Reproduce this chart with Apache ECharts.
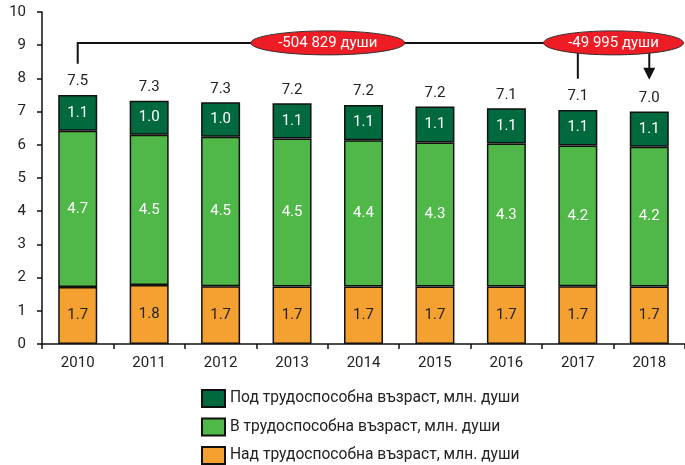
<!DOCTYPE html>
<html>
<head>
<meta charset="utf-8">
<script src="https://cdn.jsdelivr.net/npm/echarts@6.0.0/dist/echarts.min.js"></script>
<style>
  html, body { margin: 0; padding: 0; background: #fff; }
  #chart { width: 685px; height: 465px; }
</style>
</head>
<body>
<div id="chart"></div>
<script>
// данни, прочетени от графиката (млн. души)
const years = ['2010', '2011', '2012', '2013', '2014', '2015', '2016', '2017', '2018']
const underAge = [1.08, 1.03, 1.04, 1.06, 1.06, 1.08, 1.06, 1.07, 1.06]
const workingAge = [4.70, 4.52, 4.50, 4.46, 4.41, 4.34, 4.31, 4.24, 4.21]
const overAge = [1.72, 1.78, 1.74, 1.73, 1.73, 1.73, 1.73, 1.74, 1.73]
const totals = [7.5, 7.3, 7.3, 7.2, 7.2, 7.2, 7.1, 7.1, 7.0]
const seriesNames = [
  'Под трудоспособна възраст, млн. души',
  'В трудоспособна възраст, млн. души',
  'Над трудоспособна възраст, млн. души'
]
const changeLabels = ['-504 829 души', '-49 995 души']

const FONT = 'Roboto'
const colors = { under: '#006a3e', working: '#50b848', over: '#f5a131' }

const chart = echarts.init(document.getElementById('chart'))

// общи настройки за сегментите
function segment(name, data, color, labelColor) {
  return {
    name: name,
    type: 'bar',
    stack: 'pop',
    barWidth: 39,
    data: data,
    itemStyle: { color: color, borderColor: '#111', borderWidth: 1.5 },
    label: {
      show: true,
      position: 'inside',
      color: labelColor,
      fontFamily: FONT,
      fontSize: 15,
      formatter: p => p.value.toFixed(1)
    }
  }
}

const option = {
  backgroundColor: '#fff',
  animation: false,
  textStyle: { fontFamily: FONT },
  grid: { left: 42, right: -3, top: 12, bottom: 121 },
  legend: {
    orient: 'vertical',
    left: 201,
    top: 389,
    padding: 0,
    height: 80,
    icon: 'rect',
    itemWidth: 23,
    itemHeight: 17,
    itemGap: 9.5,
    data: seriesNames,
    textStyle: { color: '#222', fontSize: 15.6, fontFamily: FONT }
  },
  xAxis: {
    type: 'category',
    data: years,
    axisLine: { lineStyle: { color: '#111', width: 1.5 } },
    axisTick: { show: true, length: 5, lineStyle: { color: '#111', width: 1.5 } },
    axisLabel: { color: '#222', fontSize: 15, margin: 12 }
  },
  yAxis: {
    type: 'value',
    min: 0,
    max: 10,
    interval: 1,
    splitLine: { show: false },
    axisLine: { show: true, lineStyle: { color: '#111', width: 1.5 } },
    axisTick: { show: true, length: 5, lineStyle: { color: '#111', width: 1.5 } },
    axisLabel: { color: '#222', fontSize: 15, margin: 16 }
  },
  series: [
    segment(seriesNames[2], overAge, colors.over, '#222'),
    segment(seriesNames[1], workingAge, colors.working, '#fff'),
    segment(seriesNames[0], underAge, colors.under, '#fff'),
    {
      // общо над стълба
      name: 'total',
      type: 'bar',
      stack: 'pop',
      barWidth: 39,
      data: years.map(() => 0),
      itemStyle: { color: 'transparent', borderWidth: 0 },
      label: {
        show: true,
        position: 'top',
        distance: 6,
        color: '#222',
        fontFamily: FONT,
        fontSize: 15,
        formatter: p => totals[p.dataIndex].toFixed(1)
      }
    }
  ]
}

chart.setOption(option)

// анотации - изчислени от скалите на графиката
const px = (i, v) => chart.convertToPixel({ gridIndex: 0 }, [i, v])
const lineY = px(0, 9.07)[1]
const x0 = px(0, 0)[0]
const x17 = px(7, 0)[0]
const x18 = px(8, 0)[0]
const e1x = (px(3, 0)[0] + px(4, 0)[0]) / 2
const e2x = (px(7, 0)[0] + px(8, 0)[0]) / 2
const lineStyle = { stroke: '#111', lineWidth: 2, fill: null }
const tipY = px(8, 7.96)[1]

chart.setOption({
  graphic: [
    { type: 'polyline', z: 10, shape: { points: [[x0, px(0, 8.44)[1]], [x0, lineY], [e2x, lineY]] }, style: lineStyle },
    { type: 'line', z: 10, shape: { x1: x17, y1: lineY, x2: x17, y2: px(7, 7.99)[1] }, style: lineStyle },
    { type: 'line', z: 10, shape: { x1: x18, y1: lineY, x2: x18, y2: tipY - 10 }, style: lineStyle },
    { type: 'polygon', z: 10, shape: { points: [[x18 - 6, tipY - 12], [x18 + 6, tipY - 12], [x18, tipY]] }, style: { fill: '#111' } },
    { type: 'ellipse', z: 11, shape: { cx: e1x, cy: lineY, rx: 77, ry: 12 }, style: { fill: '#ee1d25', stroke: '#333', lineWidth: 1 } },
    { type: 'ellipse', z: 11, shape: { cx: e2x, cy: lineY, rx: 70, ry: 12 }, style: { fill: '#ee1d25', stroke: '#333', lineWidth: 1 } },
    { type: 'text', z: 12, style: { text: changeLabels[0], x: e1x, y: lineY, align: 'center', verticalAlign: 'middle', fill: '#fff', font: '15px ' + FONT } },
    { type: 'text', z: 12, style: { text: changeLabels[1], x: e2x, y: lineY, align: 'center', verticalAlign: 'middle', fill: '#fff', font: '15px ' + FONT } }
  ]
})
</script>
</body>
</html>
